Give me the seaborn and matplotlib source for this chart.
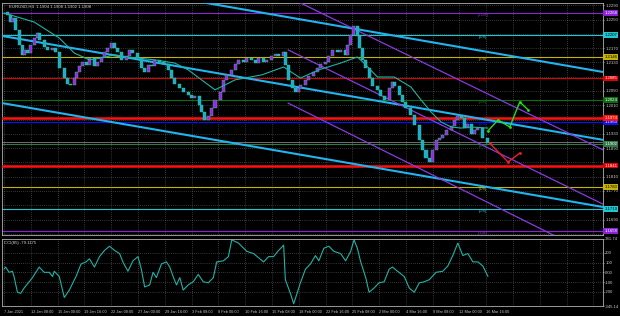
import matplotlib
matplotlib.use("Agg")
import matplotlib.pyplot as plt
import seaborn as sns
import pandas as pd

# ---------------- data ----------------
header = "EURUSD,H4  1.1904 1.1908 1.1902 1.1908"
cci_title = "CCI(85) -79.1175"

price_bar = [0, 2, 4, 5, 7, 9, 11, 12, 14, 16, 18, 20, 21, 24, 26, 29, 31, 33, 36, 38,
             40, 42, 43, 45, 47, 49, 51, 54, 56, 58, 60, 62, 64, 66, 68, 70, 73, 75, 77, 80,
             82, 84, 86, 88, 90, 93, 95, 98, 100, 102, 105, 107, 110, 112, 114, 117, 118, 120, 122, 124,
             126, 129, 131, 133, 136, 138, 140, 143, 145, 148, 150, 152, 155, 157, 160, 162, 164, 167, 168, 170,
             172, 174, 176, 177, 180, 182, 185, 187, 189, 192, 194, 196, 199, 201, 204, 205, 207, 209, 211, 212,
             214, 216, 218, 220, 223, 225, 227, 230, 232, 233, 236, 238, 240, 243, 245, 248, 250, 252, 254, 256,
             258, 260, 262, 264, 267, 269, 271, 273, 275, 277, 279, 281, 283, 286, 289]
price_close = [1.2271, 1.2263, 1.2243, 1.2254, 1.2221, 1.2179, 1.2151, 1.2165, 1.2156, 1.2179,
               1.2198, 1.2212, 1.2193, 1.2173, 1.2165, 1.2170, 1.2159, 1.2114, 1.2086, 1.2069,
               1.2067, 1.2086, 1.2103, 1.2120, 1.2131, 1.2123, 1.2142, 1.2120, 1.2131, 1.2145,
               1.2159, 1.2170, 1.2184, 1.2170, 1.2159, 1.2137, 1.2148, 1.2165, 1.2156, 1.2142,
               1.2114, 1.2103, 1.2123, 1.2120, 1.2137, 1.2131, 1.2125, 1.2109, 1.2086, 1.2069,
               1.2058, 1.2047, 1.2039, 1.2030, 1.2036, 1.2011, 1.1991, 1.1969, 1.1980, 1.2002,
               1.2025, 1.2047, 1.2081, 1.2095, 1.2109, 1.2125, 1.2137, 1.2131, 1.2142, 1.2137,
               1.2128, 1.2142, 1.2131, 1.2137, 1.2148, 1.2153, 1.2148, 1.2159, 1.2123, 1.2081,
               1.2058, 1.2047, 1.2058, 1.2067, 1.2081, 1.2092, 1.2103, 1.2114, 1.2125, 1.2131,
               1.2148, 1.2165, 1.2159, 1.2165, 1.2151, 1.2179, 1.2207, 1.2232, 1.2204, 1.2170,
               1.2137, 1.2114, 1.2086, 1.2064, 1.2053, 1.2036, 1.2025, 1.2058, 1.2075, 1.2064,
               1.2039, 1.2019, 1.2002, 1.1983, 1.1955, 1.1913, 1.1885, 1.1862, 1.1851, 1.1885,
               1.1913, 1.1918, 1.1927, 1.1941, 1.1952, 1.1969, 1.1980, 1.1974, 1.1946, 1.1957,
               1.1929, 1.1941, 1.1946, 1.1918, 1.1904]

ma_bar = [0, 18, 33, 42, 51, 58, 66, 74, 90, 102, 110, 118, 126, 138, 154, 167, 177, 188, 201, 211,
          215, 223, 233, 243, 249, 255, 261, 267, 273, 279, 289]
ma_val = [1.2268, 1.2243, 1.2198, 1.2156, 1.2137, 1.2142, 1.2151, 1.2145, 1.2137, 1.2128,
          1.2109, 1.2081, 1.2053, 1.2081, 1.2095, 1.2117, 1.2086, 1.2109, 1.2128, 1.2145,
          1.2128, 1.2089, 1.2089, 1.2061, 1.2025, 1.1991, 1.1963, 1.1949, 1.1946, 1.1949, 1.1946]

cci_bar = [0, 1, 3, 5, 6, 8, 10, 12, 17, 21, 24, 27, 29, 30, 33, 36, 39, 43, 46, 49,
           51, 54, 57, 60, 63, 66, 69, 71, 74, 77, 80, 82, 84, 87, 89, 91, 94, 97, 99, 101,
           103, 105, 107, 110, 113, 116, 119, 122, 125, 127, 131, 134, 136, 140, 145, 149, 155, 158, 161, 164,
           167, 168, 171, 173, 177, 180, 183, 186, 188, 191, 194, 197, 201, 204, 207, 209, 211, 213, 216, 218,
           221, 224, 227, 230, 232, 235, 239, 242, 245, 248, 251, 254, 258, 262, 265, 268, 271, 274, 277, 280,
           283, 286, 289]
cci_val = [32, 54, 0, 11, -43, -204, -215, -161, -54, 54, 0, 0, -43, 11, -43, -258, -182, -43, 86, 107,
           139, 54, 161, 225, 268, 225, 193, 107, 11, 118, 161, 32, -150, -129, 0, -54, 86, 107, 54, -43,
           -129, -54, -182, -129, -97, -21, -97, -107, -54, 107, 118, 161, 333, 300, 215, 193, 107, 161, 161, 225,
           279, -75, -215, -322, -107, 32, 86, 172, 118, 247, 268, 215, 193, 118, 215, 333, 247, 107, -54, -204,
           -161, -107, -97, 32, 54, 11, -43, -161, -204, -107, -97, -75, 0, 11, 64, 172, 300, 172, 193, 107,
           107, 64, -43]

# Murrey math levels
lvl_name = ["[+1/8]", "[8/8]", "[7/8]", "[6/8]", "[5/8]", "[4/8]", "[3/8]", "[2/8]", "[1/8]", "[0/8]", "[-1/8]"]
lvl_price = [1.2268, 1.2207, 1.2146, 1.2085, 1.2024, 1.1963, 1.1902, 1.1841, 1.1780, 1.1719, 1.1658]
lvl_color = ["#8b22d6", "#1ec8d2", "#c8b400", "#e00000", "#0c6e10", "#1010f0", "#2f7a45",
             "#e00000", "#c8b400", "#1ec8d2", "#8b22d6"]
lvl_text = ["white", "black", "black", "white", "white", "white", "white", "white", "black", "black", "white"]

resist_price = 1.1974          # thick red line
support_price = 1.1841         # thick red line
last_price = 1.1908

# trend lines: (bar0, price0, bar1, price1)
cyan_lines = [(110.1, 1.2305, 357.7, 1.2103),
              (-1.2, 1.2204, 357.7, 1.1913),
              (-1.2, 1.2016, 357.7, 1.1725)]
purple_lines = [(173.2, 1.2305, 357.7, 1.1885),
                (169.6, 1.2165, 357.7, 1.1733),
                (169.6, 1.2016, 330.4, 1.1641)]

# forecast paths
green_bar = [289, 295, 302, 308, 313]
green_val = [1.1938, 1.1969, 1.1949, 1.2019, 1.1997]
red_bar = [290, 301, 308]
red_val = [1.1904, 1.1851, 1.1876]

time_bar = [0, 16, 32, 48, 64, 80, 96, 112, 128, 144, 160, 176, 192, 208, 224, 240, 256, 272, 288]
time_lbl = ["7 Jan 2021", "12 Jan 08:00", "15 Jan 00:00", "19 Jan 16:00", "22 Jan 08:00",
            "27 Jan 00:00", "29 Jan 16:00", "3 Feb 08:00", "8 Feb 00:00", "10 Feb 16:00",
            "15 Feb 08:00", "18 Feb 00:00", "22 Feb 16:00", "25 Feb 08:00", "2 Mar 00:00",
            "4 Mar 16:00", "9 Mar 08:00", "12 Mar 00:00", "16 Mar 16:00"]

price_ticks = [1.2290, 1.2250, 1.2170, 1.2130, 1.2050, 1.2010, 1.1930, 1.1890, 1.1810, 1.1770, 1.1690]
price_grid = [1.2290, 1.2250, 1.2210, 1.2170, 1.2130, 1.2090, 1.2050, 1.2010, 1.1970, 1.1930,
              1.1890, 1.1850, 1.1810, 1.1770, 1.1730, 1.1690, 1.1650]
cci_ticks = [200, 100, 0, -100, -200]
cci_tick_lbl = ["200", "100", "0.00", "-100", "-200"]
cci_lims = (-345.14, 341.74)

# ---------------- drawing ----------------
sns.set_style("dark")
plt.rcParams['font.family'] = ['Liberation Sans', 'DejaVu Sans']

FS = 3.1
FSX = 2.8
W, H = 620, 316
fig = plt.figure(figsize=(W / 100, H / 100), dpi=100, facecolor="black")


def rect(x0, y0, x1, y1):
    return [x0 / W, 1 - y1 / H, (x1 - x0) / W, (y1 - y0) / H]


ax = fig.add_axes(rect(2, 3, 603, 235))
ax2 = fig.add_axes(rect(2, 239, 603, 306))
XL = (-1.2, 357.7)
for a in (ax, ax2):
    a.set_facecolor("black")
    a.set_xlim(*XL)
    for s in a.spines.values():
        s.set_color("#b0b0b0")
        s.set_linewidth(0.6)
    a.grid(False)

ax.set_ylim(1.16466, 1.22962)
ax2.set_ylim(*cci_lims)

grid_kw = dict(color="#6a6a6a", lw=0.5, ls=(0, (1, 2)), zorder=0)
for b in time_bar + [304, 320, 336, 352]:
    ax.axvline(b, **grid_kw)
    ax2.axvline(b, **grid_kw)
for p in price_grid:
    ax.axhline(p, **grid_kw)
for v in cci_ticks:
    ax2.axhline(v, **grid_kw)

# Murrey levels
for name, p, c in zip(lvl_name, lvl_price, lvl_color):
    ax.axhline(p, color=c, lw=0.8, zorder=1)
    ax.text(286, p, name, color=c, fontsize=FS, ha="center", va="top", zorder=2)
ax.axhline(last_price, color="#9a9a9a", lw=0.5, zorder=1)
ax.axhline(resist_price, color="#ff1010", lw=1.8, zorder=3)
ax.axhline(support_price, color="#ff1010", lw=1.8, zorder=3)

# trend lines
for b0, p0, b1, p1 in cyan_lines:
    ax.plot([b0, b1], [p0, p1], color="#22b4ee", lw=1.5, zorder=4, solid_capstyle="butt")
for b0, p0, b1, p1 in purple_lines:
    ax.plot([b0, b1], [p0, p1], color="#8a3ae0", lw=0.9, zorder=4)

# candles
opens = price_close[:-1]
closes = price_close[1:]
xs = price_bar[1:]
heights = [c - o for o, c in zip(opens, closes)]
cols = ["#a020f0" if h >= 0 else "#1fa8dc" for h in heights]
ax.bar(xs, heights, bottom=opens, width=1.8, color=cols, edgecolor="#30d070",
       linewidth=0.3, zorder=5)

# moving average
sns.lineplot(x=ma_bar, y=ma_val, ax=ax, color="#1fb3a6", lw=0.8, zorder=6)

# forecast paths
sns.lineplot(x=green_bar, y=green_val, ax=ax, color="#22dd22", lw=1.0, zorder=7,
             marker="o", markersize=2, markeredgewidth=0)
sns.lineplot(x=red_bar, y=red_val, ax=ax, color="#ee2020", lw=1.0, zorder=7,
             marker="o", markersize=2, markeredgewidth=0)

# right price axis
ax.yaxis.tick_right()
ax.set_yticks(price_ticks)
ax.set_yticklabels([f"{p:.4f}" for p in price_ticks])
ax.tick_params(axis="y", colors="#c8c8c8", labelsize=FS, length=1.0, width=0.5, pad=0.6)
ax.set_xticks([])
ax.set_xlabel("")
ax.set_ylabel("")

box_prices = lvl_price + [resist_price]
box_colors = lvl_color + ["#ff1010"]
box_text = lvl_text + ["white"]
for p, c, tc in zip(box_prices, box_colors, box_text):
    ax.text(1.002, p, f"{p:.4f}", transform=ax.get_yaxis_transform(), fontsize=FS,
            color=tc, ha="left", va="center", clip_on=False, zorder=10,
            bbox=dict(boxstyle="square,pad=0.2", fc=c, ec="none"))

fig.text(9 / W, 1 - 7 / H, header, fontsize=FS, color="#d8d8d8", va="center", ha="left")

# CCI panel
sns.lineplot(x=cci_bar, y=cci_val, ax=ax2, color="#1fb3a6", lw=0.8)
ax2.yaxis.tick_right()
ax2.set_yticks([cci_lims[1]] + cci_ticks + [cci_lims[0]])
ax2.set_yticklabels([f"{cci_lims[1]:.2f}"] + cci_tick_lbl + [f"{cci_lims[0]:.2f}"])
ax2.tick_params(axis="y", colors="#c8c8c8", labelsize=FS, length=1.0, width=0.5, pad=0.6)
ax2.set_xticks(time_bar)
ax2.set_xticklabels(time_lbl, ha="left")
ax2.tick_params(axis="x", colors="#c8c8c8", labelsize=FSX, length=2, width=0.5, pad=1.2)
ax2.set_xlabel("")
ax2.set_ylabel("")
ax2.text(0.004, 0.97, cci_title, transform=ax2.transAxes, fontsize=FS, color="#d8d8d8",
         va="top", ha="left")

fig.savefig("out.png", dpi=100, facecolor="black")
